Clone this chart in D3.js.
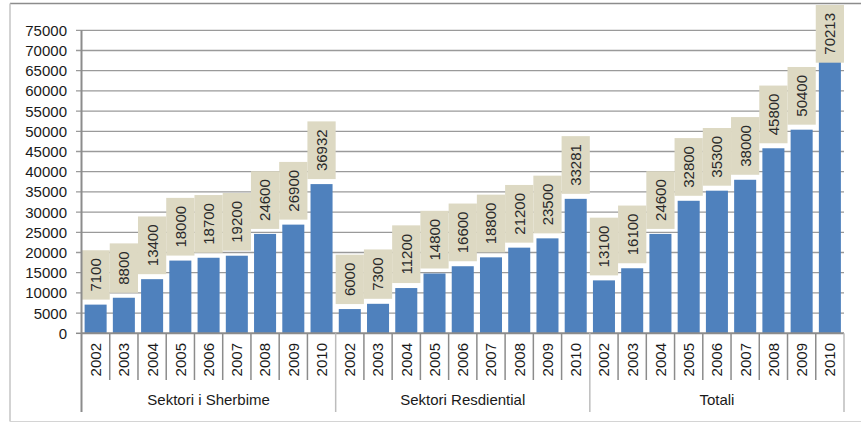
<!DOCTYPE html>
<html><head><meta charset="utf-8">
<script src="https://cdn.jsdelivr.net/npm/d3@7"></script>
<style>body{margin:0;background:#fff}svg{display:block}text{font-family:"Liberation Sans",Arial,sans-serif}</style>
</head><body><svg id="c" width="861" height="423"></svg>
<script>
const groups = ["Sektori i Sherbime", "Sektori Resdiential", "Totali"];
const years = ["2002","2003","2004","2005","2006","2007","2008","2009","2010"];
const sherbime = [7100, 8800, 13400, 18000, 18700, 19200, 24600, 26900, 36932];
const residential = [6000, 7300, 11200, 14800, 16600, 18800, 21200, 23500, 33281];
const totali = [13100, 16100, 24600, 32800, 35300, 38000, 45800, 50400, 70213];
const yTicks = [0,5000,10000,15000,20000,25000,30000,35000,40000,45000,50000,55000,60000,65000,70000,75000];

const seriesByGroup = [sherbime, residential, totali];
const data = [];
groups.forEach((g, gi) => years.forEach((yr, i) => data.push({key: g + "|" + yr, group: g, year: yr, value: seriesByGroup[gi][i]})));

const svg = d3.select("#c");
const L = 81.5, R = 844, T = 30.3, B = 333.3;
const x = d3.scaleBand().domain(data.map(d => d.key)).range([L, R]).paddingInner(0.22).paddingOuter(0.11);
const step = x.step();
const y = d3.scaleLinear().domain([0, 75000]).range([B, T]);

// outer border
svg.append("line").attr("x1", 10).attr("x2", 861).attr("y1", 3.5).attr("y2", 3.5).attr("stroke", "#8c8c8c").attr("stroke-width", 1.5);
svg.append("line").attr("x1", 10).attr("x2", 10).attr("y1", 3.5).attr("y2", 421.5).attr("stroke", "#c4c4c4").attr("stroke-width", 1.5);
svg.append("line").attr("x1", 10).attr("x2", 861).attr("y1", 421.5).attr("y2", 421.5).attr("stroke", "#d4d4d4").attr("stroke-width", 1);

// gridlines + ticks
svg.append("g").selectAll("line").data(yTicks.filter(t => t > 0)).join("line")
  .attr("x1", 76).attr("x2", R).attr("y1", d => y(d)).attr("y2", d => y(d))
  .attr("stroke", "#9a9a9a").attr("stroke-width", 1.3);

// y labels
svg.append("g").selectAll("text").data(yTicks).join("text")
  .attr("x", 67).attr("y", d => y(d)).attr("dy", "0.36em").attr("text-anchor", "end")
  .attr("font-size", 15).attr("fill", "#1a1a1a").text(d => d);
svg.append("line").attr("x1", 76).attr("x2", L).attr("y1", B).attr("y2", B).attr("stroke", "#8c8c8c").attr("stroke-width", 1.5);

// bars
svg.append("g").selectAll("rect").data(data).join("rect")
  .attr("x", d => x(d.key)).attr("width", x.bandwidth())
  .attr("y", d => y(d.value)).attr("height", d => B - y(d.value))
  .attr("fill", "#4f81bd");

// label boxes
const lab = svg.append("g").selectAll("g").data(data).join("g");
const fs = 15, digitW = 8.34;
lab.each(function(d) {
  const g = d3.select(this);
  const h = String(d.value).length * digitW + 16;
  let bottom = y(d.value) - 5;
  let top = bottom - h;
  if (top < 5) { top = 5; bottom = top + h; }
  const cx = x(d.key) + x.bandwidth() / 2;
  g.append("rect").attr("x", cx - step / 2).attr("width", step).attr("y", top).attr("height", h).attr("fill", "#ddd9c3");
  g.append("text").attr("transform", `translate(${cx},${(top + bottom) / 2}) rotate(-90)`)
    .attr("text-anchor", "middle").attr("dy", "0.36em").attr("font-size", fs).attr("fill", "#2a2a2a").text(d.value);
});

// axes lines
svg.append("line").attr("x1", L).attr("x2", L).attr("y1", T).attr("y2", 412).attr("stroke", "#8c8c8c").attr("stroke-width", 2);
svg.append("line").attr("x1", L).attr("x2", R).attr("y1", B).attr("y2", B).attr("stroke", "#8c8c8c").attr("stroke-width", 2);

// category separators
const bounds = d3.range(1, data.length + 1);
svg.append("g").selectAll("line").data(bounds).join("line")
  .attr("x1", i => L + i * step).attr("x2", i => L + i * step)
  .attr("y1", B).attr("y2", i => (i % years.length === 0) ? 412 : 380)
  .attr("stroke", i => (i % years.length === 0) ? "#bdbdbd" : "#8c8c8c").attr("stroke-width", 1.5);

// year labels
svg.append("g").selectAll("text").data(data).join("text")
  .attr("transform", d => `translate(${x(d.key) + x.bandwidth() / 2},343) rotate(-90)`)
  .attr("text-anchor", "end").attr("dy", "0.36em").attr("font-size", fs).attr("fill", "#1a1a1a").text(d => d.year);

// group labels
svg.append("g").selectAll("text").data(groups).join("text")
  .attr("x", (g, gi) => L + (gi * years.length + years.length / 2) * step).attr("y", 405)
  .attr("text-anchor", "middle").attr("font-size", fs).attr("fill", "#1a1a1a").text(g => g);
</script></body></html>
